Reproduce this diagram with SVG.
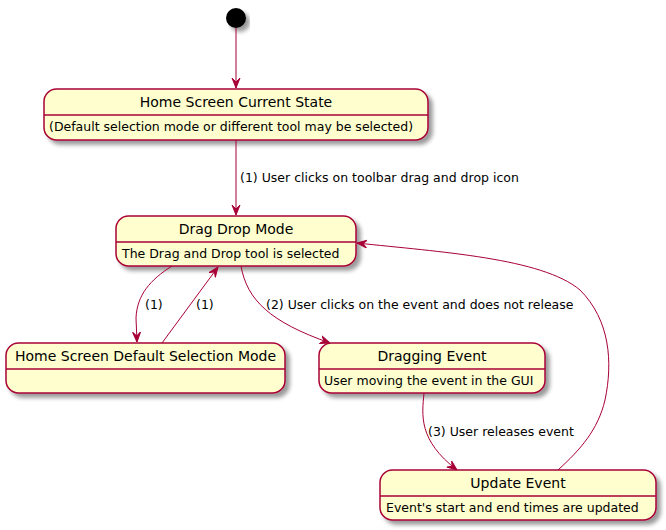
<svg xmlns="http://www.w3.org/2000/svg" width="666" height="530" viewBox="0 0 666 530">
<defs>
<filter id="sh" x="-0.1" y="-0.2" width="1.3" height="1.6">
<feGaussianBlur in="SourceAlpha" stdDeviation="2"/>
<feOffset dx="4" dy="4" result="b"/>
<feComponentTransfer><feFuncA type="linear" slope="0.4"/></feComponentTransfer>
<feMerge><feMergeNode/><feMergeNode in="SourceGraphic"/></feMerge>
</filter>
<marker id="ah" viewBox="0 0 10 10" refX="10" refY="5" markerWidth="10" markerHeight="10" markerUnits="userSpaceOnUse" orient="auto">
<path d="M0,1 L10,5 L0,9 L4,5 Z" fill="#A80036" stroke="#A80036" stroke-width="1"/>
</marker>
</defs>
<style>
.box{fill:#FEFECE;stroke:#A80036;stroke-width:1.5;filter:url(#sh)}
.sep{stroke:#A80036;stroke-width:1.5}
.t{font-family:"DejaVu Sans",sans-serif;font-size:14px;fill:#000;text-anchor:middle}
.d{font-family:"DejaVu Sans",sans-serif;font-size:12.5px;fill:#000}
.l{font-family:"DejaVu Sans",sans-serif;font-size:12.5px;fill:#000}
.c{fill:none;stroke:#A80036;stroke-width:1;marker-end:url(#ah)}
</style>
<g id="start"><circle cx="236" cy="18" r="10" fill="#000" filter="url(#sh)"/></g>
<g id="homeCurrent">
<rect class="box" x="44" y="89" width="384" height="51" rx="12.5"/>
<line class="sep" x1="44" y1="115" x2="428" y2="115"/>
<text class="t" x="236" y="107">Home Screen Current State</text>
<text class="d" x="49" y="131">(Default selection mode or different tool may be selected)</text>
</g>
<g id="dragDrop">
<rect class="box" x="116" y="216" width="240" height="50" rx="12.5"/>
<line class="sep" x1="116" y1="242" x2="356" y2="242"/>
<text class="t" x="236" y="234">Drag Drop Mode</text>
<text class="d" x="122" y="258">The Drag and Drop tool is selected</text>
</g>
<g id="homeDefault">
<rect class="box" x="6" y="343" width="279" height="50" rx="12.5"/>
<line class="sep" x1="6" y1="369" x2="285" y2="369"/>
<text class="t" x="145.5" y="361">Home Screen Default Selection Mode</text>
</g>
<g id="dragging">
<rect class="box" x="319" y="343" width="226" height="50" rx="12.5"/>
<line class="sep" x1="319" y1="369" x2="545" y2="369"/>
<text class="t" x="432" y="361">Dragging Event</text>
<text class="d" x="324" y="385">User moving the event in the GUI</text>
</g>
<g id="update">
<rect class="box" x="380" y="470" width="276" height="50" rx="12.5"/>
<line class="sep" x1="380" y1="496" x2="656" y2="496"/>
<text class="t" x="518" y="488">Update Event</text>
<text class="d" x="386" y="512">Event's start and end times are updated</text>
</g>
<g id="connectors">
<path class="c" d="M236,28 L236,88"/>
<path class="c" d="M236,140 L236,215"/>
<text class="l" x="240" y="182">(1) User clicks on toolbar drag and drop icon</text>
<path class="c" d="M172,266 C150,280 137,295 136,318 L137,342"/>
<text class="l" x="145" y="309">(1)</text>
<path class="c" d="M162,343 L218,267"/>
<text class="l" x="196" y="309">(1)</text>
<path class="c" d="M241,266 C247,300 270,322 330,343"/>
<text class="l" x="266" y="309">(2) User clicks on the event and does not release</text>
<path class="c" d="M424,393 C422,415 418,440 457,470"/>
<text class="l" x="428" y="436">(3) User releases event</text>
<path class="c" d="M558,470 C580,450 598,430 605,400 C613,362 610,320 580,290 C542,258 440,252 357,243"/>
</g>
</svg>
